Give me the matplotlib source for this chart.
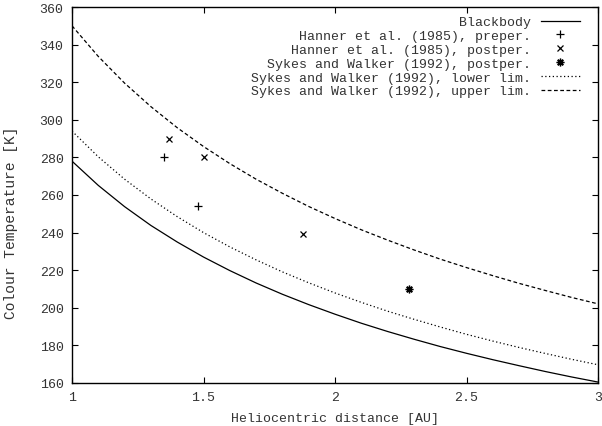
import matplotlib
matplotlib.use("Agg")
import matplotlib.pyplot as plt

# values
r_grid = [1.0, 1.1, 1.2, 1.3, 1.4, 1.5, 1.6, 1.7, 1.8, 1.9, 2.0,
          2.1, 2.2, 2.3, 2.4, 2.5, 2.6, 2.7, 2.8, 2.9, 3.0]
t_blackbody = [278.0, 265.1, 253.8, 243.8, 235.0, 227.0, 219.8, 213.2, 207.2, 201.7, 196.6,
               191.8, 187.4, 183.3, 179.4, 175.8, 172.4, 169.2, 166.1, 163.2, 160.5]
t_lower = [294.0, 280.3, 268.4, 257.9, 248.5, 240.0, 232.4, 225.5, 219.1, 213.3, 207.9,
           202.9, 198.2, 193.9, 189.8, 185.9, 182.3, 178.9, 175.7, 172.6, 169.7]
t_upper = [350.0, 333.7, 319.5, 307.0, 295.8, 285.8, 276.7, 268.4, 260.9, 253.9, 247.5,
           241.5, 236.0, 230.8, 225.9, 221.4, 217.1, 213.0, 209.2, 205.5, 202.1]

hanner_pre_r = [1.35, 1.48]
hanner_pre_t = [280, 254]
hanner_post_r = [1.37, 1.50, 1.88]
hanner_post_t = [290, 280, 239]
sykes_post_r = [2.28]
sykes_post_t = [210]

xticks = [1, 1.5, 2, 2.5, 3]
xticklabels = ["1", "1.5", "2", "2.5", "3"]
yticks = list(range(160, 361, 20))

plt.rcParams['font.family'] = ['Liberation Mono', 'DejaVu Sans Mono']
fs = 9.5
txt = "#333333"

fig = plt.figure(figsize=(6.02, 4.27), dpi=100)
ax = fig.add_axes([72 / 602, 43 / 427, 526 / 602, 376 / 427])

ax.plot(r_grid, t_blackbody, color="black", lw=0.9, label="Blackbody")
ax.plot(hanner_pre_r, hanner_pre_t, ls="none", marker="+", ms=6, mew=0.9,
        color="black", label="Hanner et al. (1985), preper.")
ax.plot(hanner_post_r, hanner_post_t, ls="none", marker="x", ms=5, mew=0.9,
        color="black", label="Hanner et al. (1985), postper.")
ax.plot(sykes_post_r, sykes_post_t, ls="none", marker=(8, 2, 0), ms=5.5, mew=1.0,
        color="black", label="Sykes and Walker (1992), postper.")
ax.plot(r_grid, t_lower, color="black", lw=0.9, ls=(0, (1, 2)),
        label="Sykes and Walker (1992), lower lim.")
ax.plot(r_grid, t_upper, color="black", lw=0.9, ls=(0, (3, 2)),
        label="Sykes and Walker (1992), upper lim.")

ax.set_xlim(1, 3)
ax.set_ylim(160, 360)
ax.set_xticks(xticks)
ax.set_xticklabels(xticklabels)
ax.set_yticks(yticks)
ax.tick_params(direction="in", length=4, width=0.8, top=True, right=True,
               labelsize=fs, pad=6, labelcolor=txt)
for s in ax.spines.values():
    s.set_linewidth(1.0)

ax.set_xlabel("Heliocentric distance [AU]", fontsize=fs, color=txt, labelpad=6)
ax.set_ylabel("Colour Temperature [K]", fontsize=10.5, color=txt)
ax.yaxis.set_label_coords(-0.103, 0.43)

leg = ax.legend(loc="upper right", bbox_to_anchor=(0.976, 0.99), borderaxespad=0,
                frameon=False, markerfirst=False, fontsize=fs,
                handlelength=3.0, handletextpad=0.7, labelspacing=0.12, numpoints=1)
for t in leg.get_texts():
    t.set_color(txt)

fig.savefig("out.png", dpi=100)
